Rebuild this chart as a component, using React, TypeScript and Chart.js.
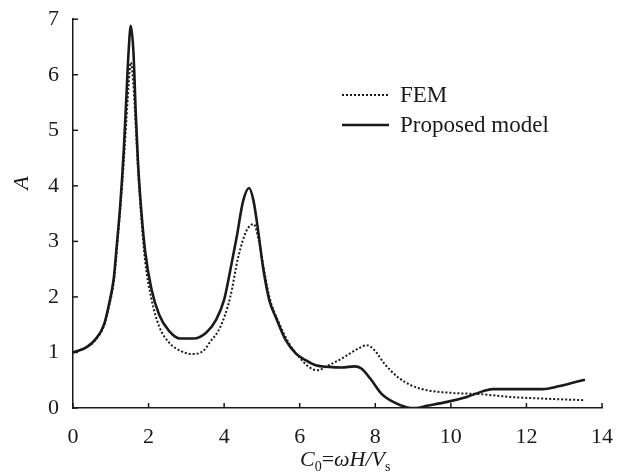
import React, { useEffect, useRef } from "react";
import { Chart, registerables } from "chart.js";

Chart.register(...registerables);

const femX = [0, 0.35, 0.6, 0.82, 0.95, 1.08, 1.16, 1.25, 1.3, 1.41, 1.47, 1.53, 1.6, 1.64, 1.72, 1.81, 1.91, 2.07, 2.28, 2.54, 2.84, 3.15, 3.45, 3.63, 3.9, 4.16, 4.37, 4.59, 4.78, 4.9, 5.03, 5.2, 5.46, 5.72, 5.98, 6.24, 6.46, 6.77, 7.11, 7.55, 7.77, 7.98, 8.24, 8.59, 8.94, 9.37, 10.07, 10.77, 11.55, 12.42, 13.55];
const femY = [1.0, 1.09, 1.23, 1.48, 1.82, 2.28, 2.85, 3.6, 4.0, 5.15, 5.8, 6.22, 5.8, 5.33, 4.3, 3.4, 2.64, 1.98, 1.47, 1.18, 1.03, 0.97, 1.03, 1.19, 1.46, 1.99, 2.71, 3.19, 3.31, 3.07, 2.59, 1.99, 1.52, 1.16, 0.92, 0.74, 0.68, 0.77, 0.89, 1.07, 1.13, 1.04, 0.8, 0.56, 0.41, 0.32, 0.27, 0.25, 0.2, 0.17, 0.14];

const propX = [0, 0.35, 0.6, 0.82, 0.95, 1.08, 1.16, 1.25, 1.34, 1.41, 1.47, 1.53, 1.6, 1.66, 1.72, 1.81, 1.91, 2.07, 2.28, 2.54, 2.84, 3.19, 3.53, 3.79, 4.0, 4.16, 4.33, 4.5, 4.66, 4.78, 4.9, 5.03, 5.2, 5.37, 5.63, 5.9, 6.16, 6.42, 6.77, 7.11, 7.46, 7.63, 7.9, 8.16, 8.5, 8.85, 9.07, 9.37, 9.9, 10.42, 10.94, 11.11, 12.42, 12.85, 13.2, 13.55];
const propY = [1.0, 1.09, 1.24, 1.5, 1.86, 2.34, 2.94, 3.65, 4.6, 5.56, 6.4, 6.88, 6.4, 5.33, 4.43, 3.53, 2.82, 2.16, 1.68, 1.39, 1.25, 1.25, 1.36, 1.59, 1.95, 2.47, 3.07, 3.72, 3.96, 3.72, 3.19, 2.53, 1.93, 1.63, 1.22, 0.98, 0.86, 0.77, 0.74, 0.73, 0.75, 0.71, 0.5, 0.26, 0.1, 0.01, 0.0, 0.04, 0.11, 0.2, 0.32, 0.34, 0.34, 0.39, 0.45, 0.51];

const xTicks = [0, 2, 4, 6, 8, 10, 12, 14];
const yTicks = [0, 1, 2, 3, 4, 5, 6, 7];
const legendLabels = ["FEM", "Proposed model"];

const FONT = '"Liberation Serif", "Times New Roman", serif';
const INK = "#1a1a1a";

const decorPlugin = {
  id: "decor",
  afterDraw(chart: any) {
    const ctx = chart.ctx;
    const xs = chart.scales.x;
    const ys = chart.scales.y;
    const area = chart.chartArea;
    ctx.save();
    ctx.strokeStyle = INK;
    ctx.lineWidth = 1.5;
    xTicks.forEach((v) => {
      const px = xs.getPixelForValue(v);
      ctx.beginPath();
      ctx.moveTo(px, area.bottom);
      ctx.lineTo(px, area.bottom - 5);
      ctx.stroke();
    });
    yTicks.forEach((v) => {
      const py = ys.getPixelForValue(v);
      ctx.beginPath();
      ctx.moveTo(area.left, py);
      ctx.lineTo(area.left + 5, py);
      ctx.stroke();
    });
    // legend
    ctx.fillStyle = INK;
    ctx.font = `23px ${FONT}`;
    ctx.textBaseline = "middle";
    ctx.textAlign = "left";
    ctx.lineWidth = 2;
    ctx.setLineDash([2, 2]);
    ctx.beginPath();
    ctx.moveTo(342, 95);
    ctx.lineTo(389, 95);
    ctx.stroke();
    ctx.setLineDash([]);
    ctx.lineWidth = 2.6;
    ctx.beginPath();
    ctx.moveTo(342, 125);
    ctx.lineTo(389, 125);
    ctx.stroke();
    ctx.fillText(legendLabels[0], 400, 96);
    ctx.fillText(legendLabels[1], 400, 126);

    // x axis title: C0=ωH/Vs
    ctx.textBaseline = "alphabetic";
    let x = 300;
    const base = 466;
    const parts: [string, string, number][] = [
      ["C", "italic 22px", 0],
      ["0", "14px", 5],
      ["=", "22px", 0],
      ["ω", "italic 22px", 0],
      ["H", "italic 22px", 0],
      ["/", "italic 22px", 0],
      ["V", "italic 22px", 0],
      ["s", "14px", 5],
    ];
    parts.forEach(([t, f, dy]) => {
      ctx.font = `${f} ${FONT}`;
      ctx.fillText(t, x, base + dy);
      x += ctx.measureText(t).width;
    });

    // y axis title
    ctx.save();
    ctx.translate(22, 183);
    ctx.rotate(-Math.PI / 2);
    ctx.font = `italic 22px ${FONT}`;
    ctx.textAlign = "center";
    ctx.textBaseline = "middle";
    ctx.fillText("A", 0, 0);
    ctx.restore();
    ctx.restore();
  },
};

export default function App() {
  const ref = useRef<HTMLCanvasElement | null>(null);
  useEffect(() => {
    document.body.style.margin = "0";
    const canvas = ref.current!;
    const chart = new Chart(canvas, {
      type: "line",
      data: {
        datasets: [
          {
            label: legendLabels[0],
            data: femX.map((v, i) => ({ x: v, y: femY[i] })),
            borderColor: INK,
            borderWidth: 2,
            borderDash: [2, 2],
            pointRadius: 0,
            cubicInterpolationMode: "monotone",
            fill: false,
          },
          {
            label: legendLabels[1],
            data: propX.map((v, i) => ({ x: v, y: propY[i] })),
            borderColor: INK,
            borderWidth: 2.6,
            pointRadius: 0,
            cubicInterpolationMode: "monotone",
            fill: false,
          },
        ],
      },
      options: {
        animation: false,
        responsive: false,
        layout: { padding: { left: 0, top: 17, right: 10, bottom: 0 } },
        plugins: { legend: { display: false }, tooltip: { enabled: false } },
        scales: {
          x: {
            type: "linear",
            min: 0,
            max: 14,
            afterBuildTicks: (s: any) => {
              s.ticks = xTicks.map((v) => ({ value: v }));
            },
            afterFit: (s: any) => {
              s.height = 65;
            },
            grid: { display: false },
            border: { display: true, color: INK, width: 1.5 },
            ticks: { color: INK, font: { family: FONT, size: 22 }, padding: 8, maxRotation: 0 },
          },
          y: {
            type: "linear",
            min: 0,
            max: 7,
            afterBuildTicks: (s: any) => {
              s.ticks = yTicks.map((v) => ({ value: v }));
            },
            afterFit: (s: any) => {
              s.width = 73;
            },
            grid: { display: false },
            border: { display: true, color: INK, width: 1.5 },
            ticks: { color: INK, font: { family: FONT, size: 22 }, padding: 6 },
          },
        },
      },
      plugins: [decorPlugin],
    } as any);
    return () => chart.destroy();
  }, []);
  return <canvas ref={ref} width={621} height={473} style={{ display: "block" }} />;
}
